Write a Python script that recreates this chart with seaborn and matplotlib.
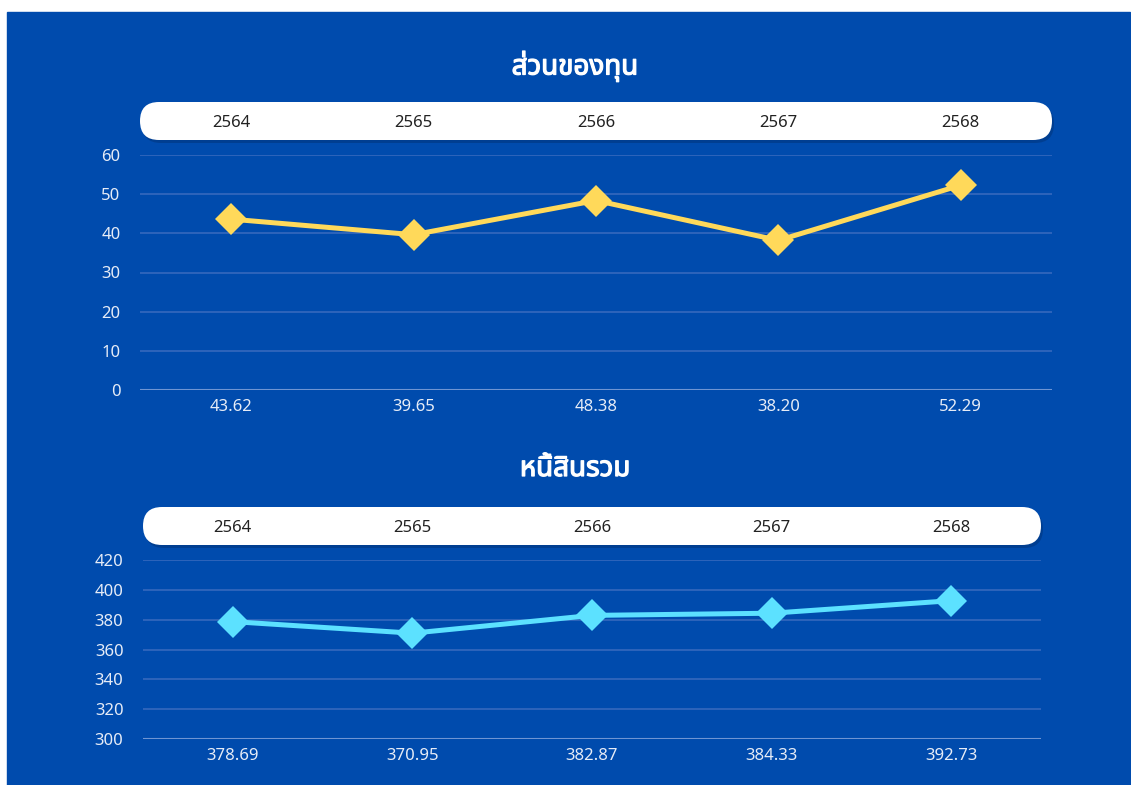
import matplotlib
matplotlib.use('Agg')
import matplotlib.pyplot as plt
import matplotlib.patheffects as pe
import seaborn as sns
import pandas as pd
from matplotlib.patches import FancyBboxPatch, Rectangle

sns.set_style('white')
plt.rcParams['font.family'] = ['Noto Sans Thai', 'Noto Sans', 'DejaVu Sans']

years = ['2564', '2565', '2566', '2567', '2568']
equity = [43.62, 39.65, 48.38, 38.20, 52.29]
liabilities = [378.69, 370.95, 382.87, 384.33, 392.73]
titles = ['ส่วนของทุน', 'หนี้สินรวม']

BLUE = '#004BAD'
W, H = 1131, 785

fig = plt.figure(figsize=(W / 100, H / 100), dpi=100)
fig.patch.set_facecolor('white')
fig.add_artist(Rectangle((7 / W, 0), (1130 - 7) / W, (H - 12) / H,
                         transform=fig.transFigure, color=BLUE, zorder=0))

# overlay in pixel coordinates for pills and titles
over = fig.add_axes([0, 0, 1, 1], zorder=5)
over.set_xlim(0, W)
over.set_ylim(H, 0)
over.axis('off')
over.patch.set_alpha(0)


def px_axes(x0, x1, y_top, y_bot):
    return fig.add_axes([x0 / W, 1 - y_bot / H, (x1 - x0) / W, (y_bot - y_top) / H])


def panel(ax, values, color, ylim, yticks, title, title_y, pill_top, pill_bot, x0, x1):
    df = pd.DataFrame({'year': years, 'value': values})
    df['pos'] = range(len(years))
    sns.lineplot(data=df, x='pos', y='value', ax=ax, color=color, lw=3.6,
                 marker='D', markersize=16, markeredgewidth=0, zorder=3)
    ax.set_xlim(-0.5, len(years) - 0.5)
    ax.set_ylim(*ylim)
    ax.set_yticks(yticks)
    ax.set_yticklabels([str(t) for t in yticks], color='#e6ecf7', fontsize=12)
    ax.set_xticks([])
    ax.set_xlabel('')
    ax.set_ylabel('')
    ax.tick_params(axis='y', length=0, pad=14)
    for s in ax.spines.values():
        s.set_visible(False)
    for t in yticks[1:]:
        ax.axhline(t, color='#3569bd', lw=1.2, zorder=1)
    ax.axhline(yticks[0], color='#6f95d3', lw=1.5, zorder=1)
    ax.patch.set_alpha(0)
    # value labels under the axis
    for i, v in enumerate(values):
        ax.annotate(f'{v:.2f}', (i, ylim[0]), xytext=(0, -12), textcoords='offset points',
                    ha='center', va='center', color='#e6ecf7', fontsize=12)
    # title (stroke to fake the bold weight)
    over.text(575, title_y, title, ha='center', va='center', color='white',
              fontsize=20, fontweight='bold',
              path_effects=[pe.withStroke(linewidth=0.9, foreground='white')])
    # pill with years
    h = pill_bot - pill_top
    r = h / 2
    over.add_patch(FancyBboxPatch((x0 + 2, pill_top + 3), x1 - x0, h,
                                  boxstyle=f'round,pad=0,rounding_size={r}',
                                  fc='#00285f', ec='none', alpha=0.35, zorder=1))
    over.add_patch(FancyBboxPatch((x0, pill_top), x1 - x0, h,
                                  boxstyle=f'round,pad=0,rounding_size={r}',
                                  fc='white', ec='none', zorder=2))
    for i, y in enumerate(years):
        xp = x0 + (x1 - x0) * (i + 0.5) / len(years)
        over.text(xp, pill_top + h / 2 + 2, y, ha='center', va='center',
                  color='#222222', fontsize=12, zorder=3)


ax1 = px_axes(140, 1052, 155, 390)
panel(ax1, equity, '#FFD95A', (0, 60), [0, 10, 20, 30, 40, 50, 60], titles[0], 66,
      102, 140, 140, 1052)

ax2 = px_axes(143, 1041, 560, 739)
panel(ax2, liabilities, '#5CE1FF', (300, 420), [300, 320, 340, 360, 380, 400, 420], titles[1], 469,
      507, 545, 143, 1041)

fig.savefig('out.png', dpi=100)
